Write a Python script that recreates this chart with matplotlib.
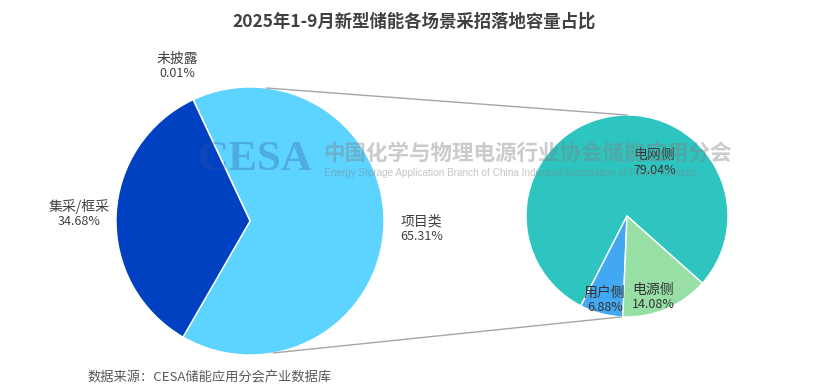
import numpy as np
import matplotlib.pyplot as plt
from matplotlib.patches import ConnectionPatch

plt.rcParams['font.family'] = ['Noto Sans CJK SC', 'DejaVu Sans']

title = "2025年1-9月新型储能各场景采招落地容量占比"
source = "数据来源：CESA储能应用分会产业数据库"

main_labels = ["项目类", "未披露", "集采/框采"]
main_values = [65.31, 0.01, 34.68]
main_colors = ["#5DD3FF", "#1F4FB8", "#0041C2"]

sub_labels = ["电网侧", "用户侧", "电源侧"]
sub_values = [79.04, 6.88, 14.08]
sub_colors = ["#2EC4C0", "#42A8F2", "#98DFA6"]

fig = plt.figure(figsize=(8.29, 3.90), dpi=100)
ax = fig.add_axes([0, 0, 1, 1])

c1, r1 = (250, 169), 134
c2, r2 = (627, 174), 101
start1 = -120
start2 = -41.7

w1, _ = ax.pie(main_values, colors=main_colors, startangle=start1,
               center=c1, radius=r1, frame=True,
               wedgeprops=dict(edgecolor="white", linewidth=1))
w2, _ = ax.pie(sub_values, colors=sub_colors, startangle=start2,
               center=c2, radius=r2, frame=True,
               wedgeprops=dict(edgecolor="white", linewidth=1))
ax.set_xlim(0, 829)
ax.set_ylim(0, 390)
ax.set_aspect("equal")
ax.axis("off")

# data labels on the main pie (outside)
for w, lab, v in zip(w1, main_labels, main_values):
    mid = np.deg2rad((w.theta1 + w.theta2) / 2)
    d = 1.28 * r1
    x, y = c1[0] + d * np.cos(mid), c1[1] + d * np.sin(mid)
    ax.text(x, y + 7, lab, ha="center", va="center", fontsize=10, color="#404040")
    ax.text(x, y - 8, f"{v:.2f}%", ha="center", va="center", fontsize=9, color="#404040")

# data labels on the sub pie (inside)
sub_pos = [(63, 0.60), (None, 0.86), (-72, 0.84)]
for w, lab, v, (ang, dist) in zip(w2, sub_labels, sub_values, sub_pos):
    a = (w.theta1 + w.theta2) / 2 if ang is None else ang
    a = np.deg2rad(a)
    x, y = c2[0] + dist * r2 * np.cos(a), c2[1] + dist * r2 * np.sin(a)
    ax.text(x, y + 7, lab, ha="center", va="center", fontsize=10, color="#333333")
    ax.text(x, y - 8, f"{v:.2f}%", ha="center", va="center", fontsize=9, color="#333333")

# connector lines between the pies
for a1, a2 in [(83, 90), (-80, -93)]:
    p1 = (c1[0] + r1 * np.cos(np.deg2rad(a1)), c1[1] + r1 * np.sin(np.deg2rad(a1)))
    p2 = (c2[0] + r2 * np.cos(np.deg2rad(a2)), c2[1] + r2 * np.sin(np.deg2rad(a2)))
    ax.add_artist(ConnectionPatch(p1, p2, "data", "data", color="#A6A6A6", lw=1))

# watermark
ax.text(198, 230, "CESA", family="Liberation Serif", fontweight="bold", fontsize=31,
        color="#2F55A0", alpha=0.3, va="center", ha="left")
ax.text(323, 236, "中国化学与物理电源行业协会储能应用分会", fontsize=15.5,
        fontweight="bold", color="#7F7F7F", alpha=0.4, va="center", ha="left")
ax.text(324, 217, "Energy Storage Application Branch of China Industrial Association of Power Sources",
        family="Liberation Sans", fontsize=7.2, color="#7F7F7F", alpha=0.45,
        va="center", ha="left")

fig.text(0.5, 0.945, title, ha="center", va="center", fontsize=12.5,
         fontweight="bold", color="#404040")
fig.text(0.106, 0.03, source, ha="left", va="center", fontsize=9.5, color="#595959")

fig.savefig("out.png", dpi=100, facecolor="white")
